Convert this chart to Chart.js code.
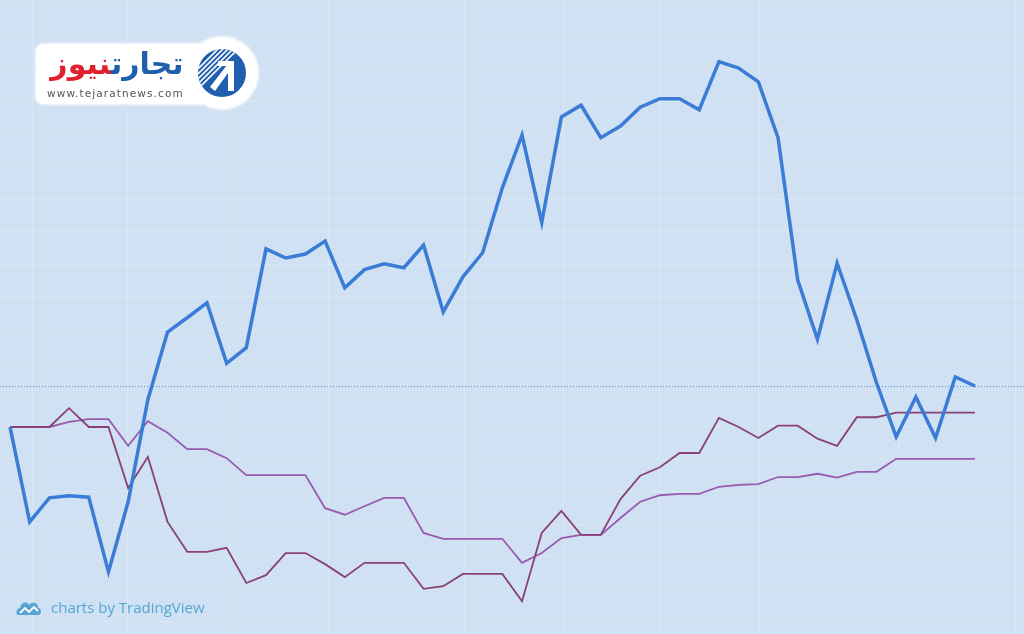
<!DOCTYPE html>
<html>
<head>
<meta charset="utf-8">
<script src="https://cdn.jsdelivr.net/npm/chart.js@4.4.1/dist/chart.umd.min.js"></script>
<style>
  html, body { margin: 0; padding: 0; background: #cfe1f2; }
  #wrap { position: relative; width: 1024px; height: 634px; overflow: hidden; }
  #chart { position: absolute; left: 0; top: 0; }
  .logo {
    position: absolute; left: 36px; top: 44px; width: 200px; height: 60px;
    background: #fff; border-radius: 8px; box-shadow: 0 0 0 2px #e6eef6;
  }
  .logo-circle {
    position: absolute; left: 186px; top: 37px; width: 72px; height: 72px;
    background: #fff; border-radius: 50%; box-shadow: 0 0 0 2px #e6eef6;
  }
  .logo-cover { position: absolute; left: 36px; top: 44px; width: 200px; height: 60px; background: #fff; border-radius: 8px; }
  .fa {
    position: absolute; left: 44px; top: 45px; width: 146px; text-align: center;
    font-family: "DejaVu Sans", sans-serif; font-weight: bold; font-size: 30px; line-height: 38px;
    direction: rtl;
  }
  .fa .b { color: #1f5fae; }
  .fa .r { color: #e0202e; }
  .url {
    position: absolute; left: 47px; top: 87px; font-family: "DejaVu Sans", sans-serif;
    font-size: 10.5px; color: #555; letter-spacing: 1.1px;
  }
  .tv {
    position: absolute; left: 16px; top: 597px; font-family: "Open Sans", sans-serif;
    font-size: 15px; color: #55a6d6;
  }
  .tv svg { vertical-align: -3px; margin-right: 9px; }
</style>
</head>
<body>
<div id="wrap">
  <canvas id="chart" width="1024" height="634"></canvas>
  <div class="logo"></div>
  <div class="logo-circle"></div>
  <div class="logo-cover"></div>
  <svg style="position:absolute;left:196px;top:47px" width="52" height="52" viewBox="0 0 52 52">
    <defs><clipPath id="c"><circle cx="26" cy="26" r="24"/></clipPath></defs>
    <circle cx="26" cy="26" r="24" fill="#1f5fae"/>
    <g clip-path="url(#c)" stroke="#fff" stroke-width="1.6">
      <line x1="2" y1="22" x2="24" y2="0"/><line x1="2" y1="27" x2="29" y2="0"/>
      <line x1="2" y1="32" x2="34" y2="0"/><line x1="2" y1="37" x2="39" y2="0"/>
      <line x1="2" y1="42" x2="44" y2="0"/>
    </g>
    <path d="M14 40 L34 14 L38 14 L38 44 L32 44 L32 26 L19 44 Z" fill="#fff"/>
    <path d="M22 14 L38 14 L38 19 L22 19 Z" fill="#fff"/>
  </svg>
  <div class="fa"><span class="b">تجارت</span><span class="r">نیوز</span></div>
  <div class="url">www.tejaratnews.com</div>
  <div class="tv"><svg width="26" height="15" viewBox="0 0 26 15"><path d="M3 14 C-1 14 0 7 4 7 C5 1 11 0 13 4 C16 0 23 2 22 7 C26 7 26 14 22 14 Z" fill="#55a6d6"/><path d="M4 12 L9 7 L13 11 L18 6 L22 10" stroke="#fff" stroke-width="1.8" fill="none"/></svg>charts by TradingView</div>
</div>
<script>
// trading sessions (index on the time axis)
const sessions = [0,1,2,3,4,5,6,7,8,9,10,11,12,13,14,15,16,17,18,19,20,21,22,23,24,
  25,26,27,28,29,30,31,32,33,34,35,36,37,38,39,40,41,42,43,44,45,46,47,48,49];

// % change from the first session
const mainSeries = [0,-14.6,-10.9,-10.6,-10.8,-22.3,-11.5,4.2,14.6,16.8,
  19.1,9.8,12.2,27.4,26.0,26.6,28.6,21.4,24.2,25.1,
  24.5,28.0,17.7,23.1,26.8,36.8,44.9,31.5,47.7,49.5,
  44.5,46.3,49.2,50.5,50.5,48.8,56.2,55.2,53.1,44.5,
  22.6,13.5,25.2,16.5,6.8,-1.5,4.6,-1.7,7.7,6.3];
const compareA = [0,0,0,2.9,0,0,-9.4,-4.6,-14.6,-19.2,
  -19.2,-18.6,-24.0,-22.8,-19.4,-19.4,-21.1,-23.1,-20.9,-20.9,
  -20.9,-24.9,-24.5,-22.6,-22.6,-22.6,-26.8,-16.3,-12.9,-16.6,
  -16.6,-11.1,-7.5,-6.2,-4.0,-4.0,1.4,0,-1.7,0.2,
  0.2,-1.8,-2.9,1.5,1.5,2.2,2.2,2.2,2.2,2.2];
const compareB = [0,0,0,0.8,1.2,1.2,-2.9,0.9,-0.9,-3.4,
  -3.4,-4.8,-7.4,-7.4,-7.4,-7.4,-12.5,-13.5,-12.2,-10.9,
  -10.9,-16.3,-17.2,-17.2,-17.2,-17.2,-20.9,-19.4,-17.1,-16.6,
  -16.6,-14.0,-11.5,-10.5,-10.3,-10.3,-9.2,-8.9,-8.8,-7.7,
  -7.7,-7.2,-7.8,-6.9,-6.9,-4.9,-4.9,-4.9,-4.9,-4.9];

// time-axis grid positions (month marks, in session units)
const timeGrid = [1.12,5.99,11.17,16.15,23.1,28.09,33.0,38.04,45.1,51.04];

const priceLine = {
  id: "priceLine",
  beforeDatasetsDraw(chart) {
    const y = chart.scales.y.getPixelForValue(mainSeries[mainSeries.length - 1]);
    const ctx = chart.ctx;
    ctx.save();
    ctx.strokeStyle = "rgba(70,130,215,0.9)";
    ctx.lineWidth = 1;
    ctx.setLineDash([1, 2]);
    ctx.beginPath();
    ctx.moveTo(0, Math.round(y) + 0.5);
    ctx.lineTo(chart.width, Math.round(y) + 0.5);
    ctx.stroke();
    ctx.restore();
  },
};

const gridColor = "rgba(255,255,255,0.22)";

new Chart(document.getElementById("chart"), {
  type: "line",
  data: {
    labels: sessions,
    datasets: [
      { data: mainSeries, borderColor: "#3a7cd6", borderWidth: 3.5, pointRadius: 0, tension: 0, borderJoinStyle: "miter" },
      { data: compareA, borderColor: "#8a4274", borderWidth: 1.8, pointRadius: 0, tension: 0 },
      { data: compareB, borderColor: "#9a5ab2", borderWidth: 1.8, pointRadius: 0, tension: 0 },
    ],
  },
  options: {
    responsive: false,
    animation: false,
    layout: { padding: 0 },
    plugins: { legend: { display: false }, tooltip: { enabled: false } },
    scales: {
      x: {
        type: "linear",
        min: -0.508,
        max: 51.49,
        ticks: { display: false },
        grid: { color: gridColor, drawTicks: false },
        border: { display: false },
        afterBuildTicks: (scale) => {
          scale.ticks = timeGrid.map((v) => ({ value: v }));
        },
      },
      y: {
        min: -31.85,
        max: 65.69,
        ticks: { display: false },
        grid: { color: gridColor, drawTicks: false },
        border: { display: false },
        afterBuildTicks: (scale) => {
          const t = [];
          for (let v = -30; v <= 65; v += 5) t.push({ value: v });
          scale.ticks = t;
        },
      },
    },
  },
  plugins: [priceLine],
});
</script>
</body>
</html>
